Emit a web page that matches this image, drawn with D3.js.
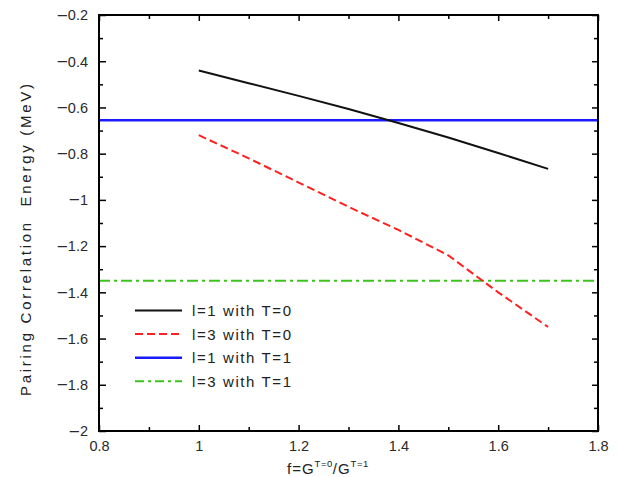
<!DOCTYPE html>
<html>
<head>
	<meta charset="utf-8">
	<style>
		body { margin: 0; background: white; }
		text { font-family: "Liberation Sans", Arial, sans-serif; fill: #222; }
		.frame path { stroke: none; }
		.frame line { stroke: black; stroke-width: 1.5; }
		.frame text { font-size: 14.5px; fill: #2a2a2a; }
	</style>
	<title>Pairing correlation energy</title>
</head>
<body>
	<script src="https://cdnjs.cloudflare.com/ajax/libs/d3/7.8.5/d3.min.js"></script>
	<script>
	// ratio f = G(T=0)/G(T=1)
	var fValues = [1.0, 1.1, 1.2, 1.3, 1.4, 1.5, 1.6, 1.7];
	// l=1 and l=3 with T=0 (MeV)
	var l1T0 = [-0.44, -0.495, -0.55, -0.607, -0.667, -0.73, -0.797, -0.866];
	var l3T0 = [-0.72, -0.82, -0.925, -1.03, -1.13, -1.24, -1.40, -1.55];
	// T=1 values are flat across f
	var l1T1 = -0.655;
	var l3T1 = -1.35;

	var xTicks = [0.8, 1, 1.2, 1.4, 1.6, 1.8];
	var yTicks = [-0.2, -0.4, -0.6, -0.8, -1, -1.2, -1.4, -1.6, -1.8, -2];
	var legendLabels = ["l=1 with T=0", "l=3 with T=0", "l=1 with T=1", "l=3 with T=1"];

	var svg = d3.select("body")
		.append("svg")
		.attr("width", 620)
		.attr("height", 477);

	var plotL = 99, plotR = 598, plotT = 15, plotB = 431;

	var xScale = d3.scaleLinear()
		.domain([0.8, 1.8])
		.range([plotL, plotR]);
	var yScale = d3.scaleLinear()
		.domain([-2, -0.2])
		.range([plotB, plotT]);

	var fmt = d3.format("~g");
	var xMinor = [0.9, 1.1, 1.3, 1.5, 1.7];
	var yMinor = [-0.3, -0.5, -0.7, -0.9, -1.1, -1.3, -1.5, -1.7, -1.9];

	// bottom / top
	svg.append("g").attr("class", "frame")
		.attr("transform", "translate(0," + plotB + ")")
		.call(d3.axisBottom(xScale).tickValues(xTicks).tickFormat(fmt).tickSize(-6).tickPadding(10));
	svg.append("g").attr("class", "frame")
		.attr("transform", "translate(0," + plotB + ")")
		.call(d3.axisBottom(xScale).tickValues(xMinor).tickFormat("").tickSize(-4));
	svg.append("g").attr("class", "frame")
		.attr("transform", "translate(0," + plotT + ")")
		.call(d3.axisTop(xScale).tickValues(xTicks).tickFormat("").tickSize(-6));
	svg.append("g").attr("class", "frame")
		.attr("transform", "translate(0," + plotT + ")")
		.call(d3.axisTop(xScale).tickValues(xMinor).tickFormat("").tickSize(-4));

	// left / right
	var yAxisG = svg.append("g").attr("class", "frame")
		.attr("transform", "translate(" + plotL + ",0)")
		.call(d3.axisLeft(yScale).tickValues(yTicks).tickFormat(fmt).tickSize(-7).tickPadding(11));
	svg.append("g").attr("class", "frame")
		.attr("transform", "translate(" + plotL + ",0)")
		.call(d3.axisLeft(yScale).tickValues(yMinor).tickFormat("").tickSize(-4));
	svg.append("g").attr("class", "frame")
		.attr("transform", "translate(" + plotR + ",0)")
		.call(d3.axisRight(yScale).tickValues(yTicks).tickFormat("").tickSize(-6));
	svg.append("g").attr("class", "frame")
		.attr("transform", "translate(" + plotR + ",0)")
		.call(d3.axisRight(yScale).tickValues(yMinor).tickFormat("").tickSize(-4));

	// long minus sign like the original
	yAxisG.selectAll(".tick text").each(function(d){
		var t = d3.select(this);
		var digits = fmt(Math.abs(d));
		t.text(null).attr("dy", null);
		t.append("tspan").attr("dy", 6).style("font-size", "19px").text("\u2212");
		t.append("tspan").attr("dy", -1.2).text(digits);
	});

	var line = d3.line()
		.x(function(d){ return xScale(d[0]); })
		.y(function(d){ return yScale(d[1]); });

	// flat T=1 lines span the whole axis
	svg.append("path")
		.datum([[0.8, l3T1], [1.8, l3T1]])
		.attr("d", line)
		.style("fill", "none").style("stroke", "#3cc41c").style("stroke-width", 2)
		.style("stroke-dasharray", "11,4,3,4");
	svg.append("path")
		.datum([[0.8, l1T1], [1.8, l1T1]])
		.attr("d", line)
		.style("fill", "none").style("stroke", "#1a1aff").style("stroke-width", 2.5);

	svg.append("path")
		.datum(fValues.map(function(f, i){ return [f, l3T0[i]]; }))
		.attr("d", line)
		.style("fill", "none").style("stroke", "#ff2020").style("stroke-width", 2)
		.style("stroke-dasharray", "8,4");
	svg.append("path")
		.datum(fValues.map(function(f, i){ return [f, l1T0[i]]; }))
		.attr("d", line)
		.style("fill", "none").style("stroke", "#111").style("stroke-width", 2);

	// frame
	svg.append("rect")
		.attr("x", plotL).attr("y", plotT)
		.attr("width", plotR - plotL).attr("height", plotB - plotT)
		.style("fill", "none").style("stroke", "black").style("stroke-width", 2);

	// legend
	var legendStyles = [
		{ color: "#111", dash: null, w: 2 },
		{ color: "#ff2020", dash: "8,4", w: 2 },
		{ color: "#1a1aff", dash: null, w: 2.5 },
		{ color: "#3cc41c", dash: "9,4,3,4", w: 2 }
	];
	legendLabels.forEach(function(label, i){
		var y = 310.5 + i * 23.6;
		svg.append("line")
			.attr("x1", 135).attr("x2", 182)
			.attr("y1", y).attr("y2", y)
			.style("stroke", legendStyles[i].color)
			.style("stroke-width", legendStyles[i].w)
			.style("stroke-dasharray", legendStyles[i].dash);
		svg.append("text")
			.attr("x", 192).attr("y", y + 5.5)
			.attr("textLength", 99)
			.style("font-size", "15px")
			.text(label);
	});

	// x axis title
	var xt = svg.append("text")
		.attr("x", 287).attr("y", 474)
		.style("font-size", "15px")
		.style("letter-spacing", "1px");
	xt.append("tspan").text("f=G");
	xt.append("tspan").attr("dy", -7).style("font-size", "9.5px").style("letter-spacing", "0.5px").text("T=0");
	xt.append("tspan").attr("dy", 7).text("/G");
	xt.append("tspan").attr("dy", -7).style("font-size", "9.5px").style("letter-spacing", "0.5px").text("T=1");

	// y axis title
	svg.append("text")
		.attr("transform", "translate(31,240) rotate(-90)")
		.style("text-anchor", "middle")
		.style("font-size", "15px")
		.attr("textLength", 312)
		.text("Pairing Correlation\u00a0\u00a0Energy (MeV)");
	</script>
</body>
</html>
